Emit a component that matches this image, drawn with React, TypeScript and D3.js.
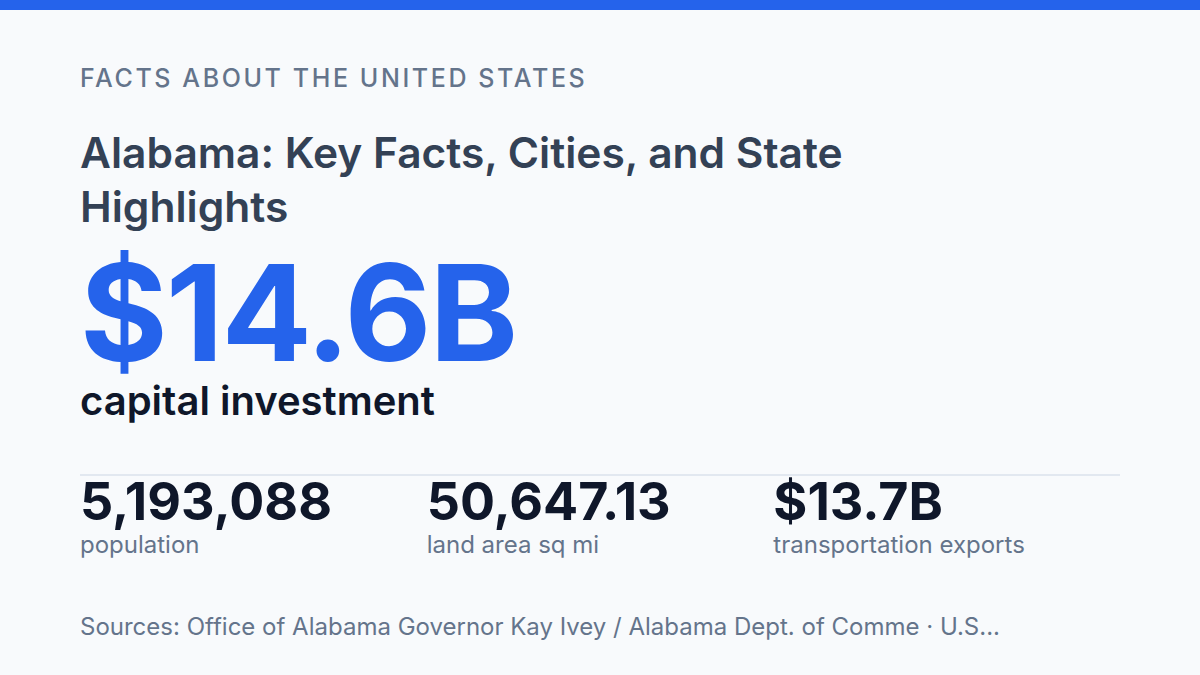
import { useEffect } from "react";
import * as d3 from "d3";

const kicker = "FACTS ABOUT THE UNITED STATES";
const titleLines = ["Alabama: Key Facts, Cities, and State", "Highlights"];
const heroValue = "$14.6B";
const heroLabel = "capital investment";
const statValues = ["5,193,088", "50,647.13", "$13.7B"];
const statLabels = ["population", "land area sq mi", "transportation exports"];
const sourceText = "Sources: Office of Alabama Governor Kay Ivey / Alabama Dept. of Comme · U.S...";

const W = 1200;
const H = 675;
const left = 80;
const right = 1120;
const font = "Inter, 'Noto Sans', sans-serif";

export default function App() {
  useEffect(() => {
    document.body.style.margin = "0";
  }, []);

  const colX = d3
    .scaleBand()
    .domain(statLabels)
    .range([left, right])
    .paddingInner(0)
    .paddingOuter(0);

  return (
    <svg width={W} height={H} style={{ display: "block" }}>
      <rect width={W} height={H} fill="#f8fafc" />
      <rect width={W} height={10} fill="#2563eb" />

      <text
        x={left}
        y={87}
        fontFamily={font}
        fontSize={25}
        fontWeight={500}
        letterSpacing={2.6}
        fill="#64748b"
      >
        {kicker}
      </text>

      {titleLines.map((line, i) => (
        <text
          key={i}
          x={left}
          y={168 + i * 54}
          fontFamily={font}
          fontSize={42.5}
          fontWeight={600}
          fill="#334155"
        >
          {line}
        </text>
      ))}

      <text
        x={left}
        y={361}
        fontFamily={font}
        fontSize={134}
        fontWeight={700}
        letterSpacing={-2}
        fill="#2563eb"
      >
        {heroValue}
      </text>
      <text
        x={left}
        y={415}
        fontFamily={font}
        fontSize={40}
        fontWeight={600}
        fill="#0f172a"
      >
        {heroLabel}
      </text>

      <line x1={left} x2={right} y1={475} y2={475} stroke="#e2e8f0" strokeWidth={2} />

      {statLabels.map((label, i) => (
        <g key={label} transform={`translate(${colX(label)},0)`}>
          <text
            y={520}
            fontFamily={font}
            fontSize={52}
            fontWeight={700}
            fill="#0f172a"
          >
            {statValues[i]}
          </text>
          <text y={553} fontFamily={font} fontSize={24} fill="#64748b">
            {label}
          </text>
        </g>
      ))}

      <text x={left} y={635} fontFamily={font} fontSize={24} fill="#64748b">
        {sourceText}
      </text>
    </svg>
  );
}
